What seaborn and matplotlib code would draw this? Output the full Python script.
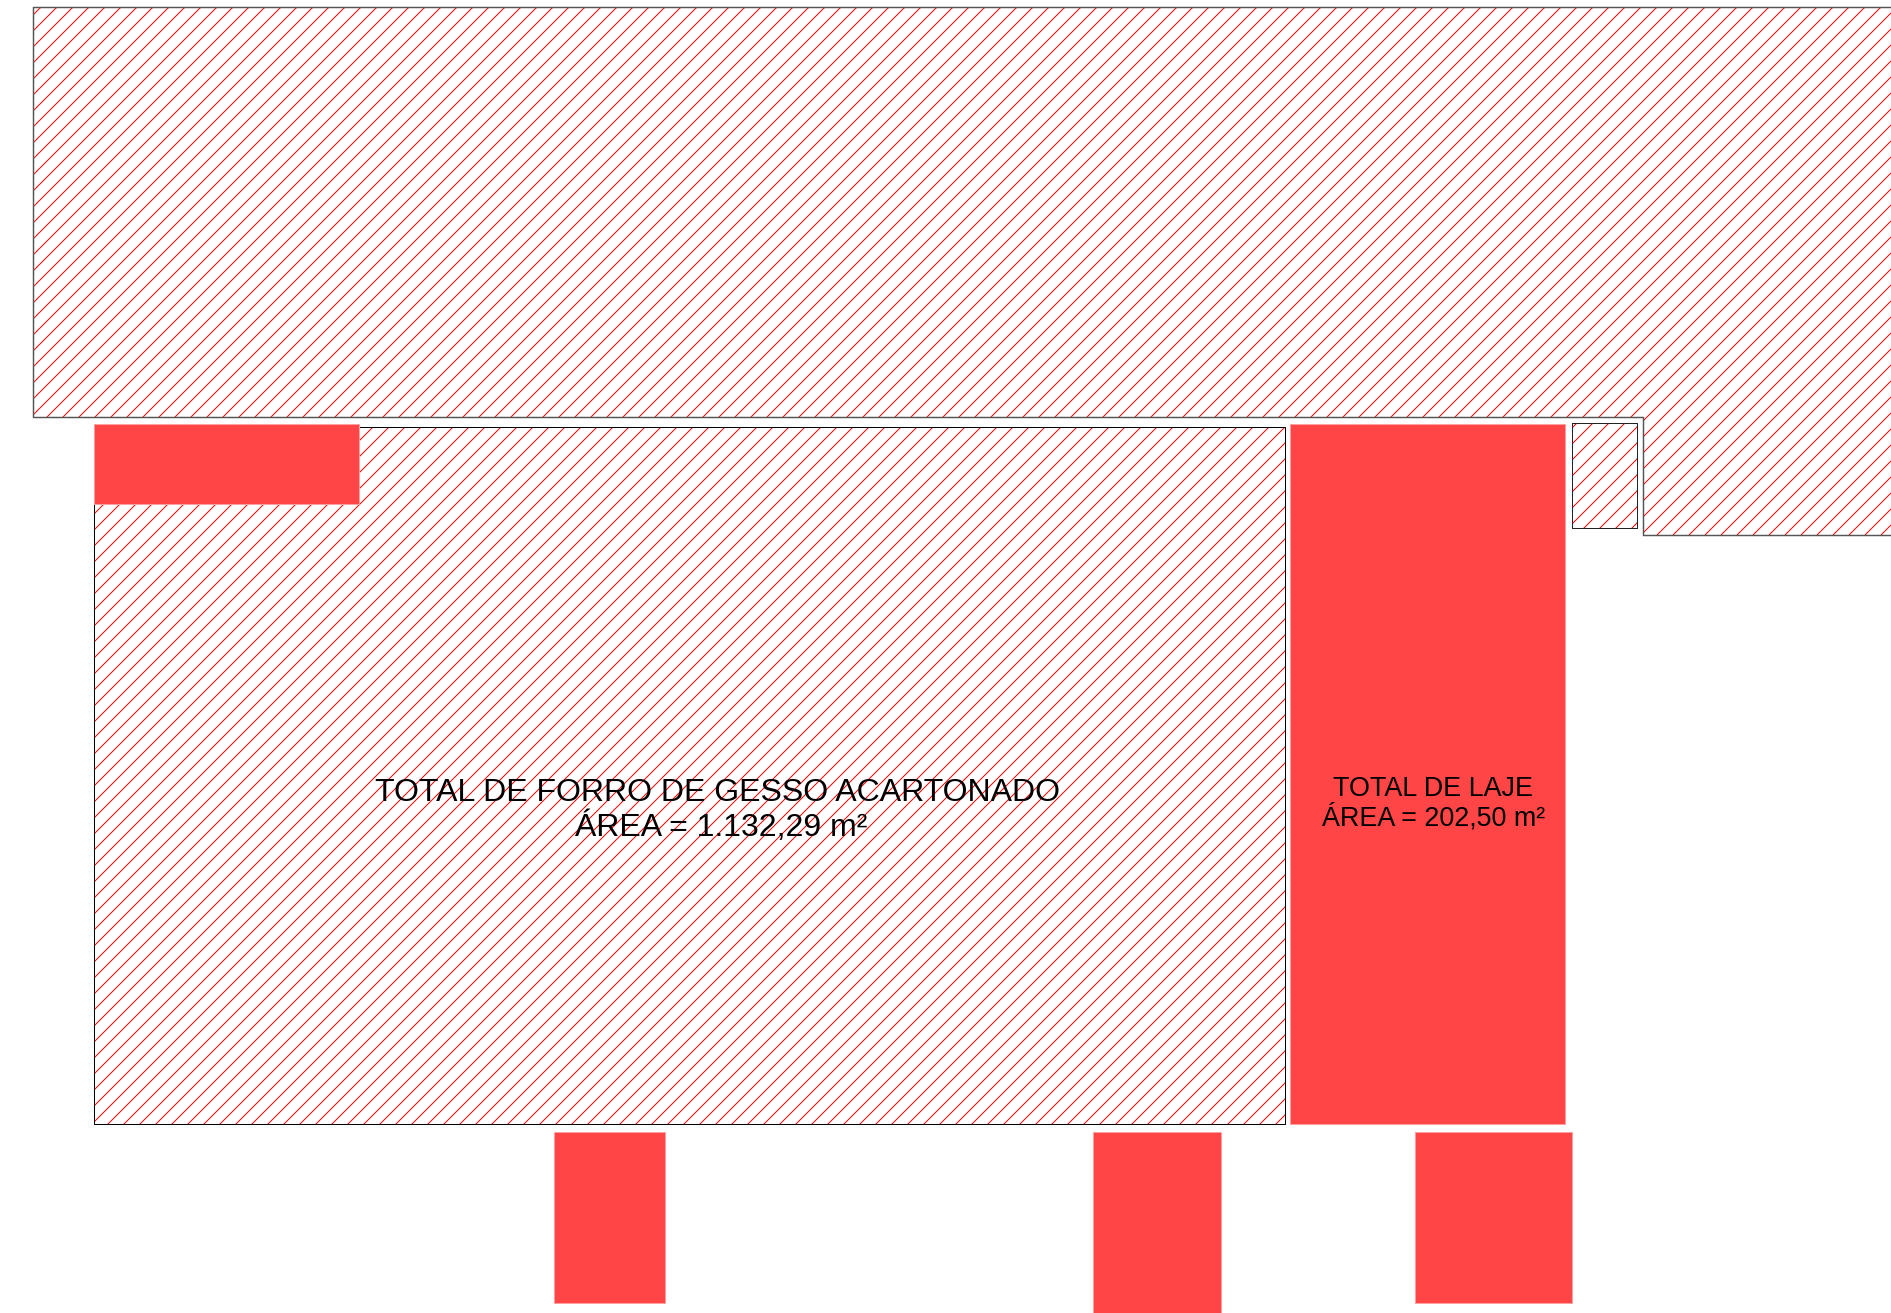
import matplotlib
matplotlib.use('Agg')
import matplotlib.pyplot as plt
import seaborn as sns

# Areas, in drawing units (image pixels)
hatched_names = ['bloco_superior', 'bloco_direita', 'forro', 'shaft']
hatched_left = [33, 1643, 94, 1572]
hatched_right = [1891, 1891, 1285, 1637]
hatched_top = [7.5, 417, 427, 423]
hatched_bottom = [417, 535, 1124, 528]

solid_names = ['laje_esquerda', 'laje', 'pilar_1', 'pilar_2', 'pilar_3']
solid_left = [94, 1290, 553.5, 1092.5, 1415]
solid_right = [359, 1565, 665, 1221, 1572]
solid_top = [424.5, 424, 1132, 1132, 1132]
solid_bottom = [504.5, 1124, 1303, 1313, 1303]

# Outlines
outline_upper_x = [1891, 33, 33, 1643, 1643, 1891]
outline_upper_y = [7.5, 7.5, 417, 417, 535, 535]
outline_forro_x = [359, 1285, 1285, 94, 94]
outline_forro_y = [427, 427, 1124, 1124, 504.5]
outline_shaft_x = [1572, 1637, 1637, 1572, 1572]
outline_shaft_y = [423, 423, 528, 528, 423]

label_forro = 'TOTAL DE FORRO DE GESSO ACARTONADO'
label_forro_area = 'ÁREA = 1.132,29 m²'
label_laje = 'TOTAL DE LAJE'
label_laje_area = 'ÁREA = 202,50 m²'

sns.set_theme(style='white')
plt.rcParams['font.family'] = ['Liberation Sans', 'DejaVu Sans']
plt.rcParams['hatch.linewidth'] = 0.75
plt.rcParams['hatch.color'] = '#ff0000'

fig = plt.figure(figsize=(1891.01 / 96, 1313.01 / 96), dpi=96)
ax = fig.add_axes([0, 0, 1, 1])


def draw_area(left, right, top, bottom, **kws):
    sns.barplot(x=[(left + right) / 2], y=[bottom - top], bottom=top, width=right - left,
                native_scale=True, saturation=1, ax=ax, **kws)


for l, r, t, b in zip(hatched_left, hatched_right, hatched_top, hatched_bottom):
    draw_area(l, r, t, b, color='white', edgecolor='#ff0000', linewidth=0, hatch='//', zorder=1)

for l, r, t, b in zip(solid_left, solid_right, solid_top, solid_bottom):
    draw_area(l, r, t, b, color='#ff4545', edgecolor='#ffa0a0', linewidth=0.75, zorder=3)

# upper block edge is softer than the two others
sns.lineplot(x=outline_upper_x, y=outline_upper_y, sort=False, estimator=None, color='#555555',
             linewidth=1.1, ax=ax, zorder=2)
sns.lineplot(x=outline_forro_x, y=outline_forro_y, sort=False, estimator=None, color='black',
             linewidth=0.75, ax=ax, zorder=2)
sns.lineplot(x=outline_shaft_x, y=outline_shaft_y, sort=False, estimator=None, color='#222222',
             linewidth=0.75, ax=ax, zorder=2)

ax.text(717, 793, label_forro, ha='center', va='center', fontsize=24, color='black', zorder=4)
ax.text(721, 827, label_forro_area, ha='center', va='center', fontsize=24, color='black', zorder=4)
ax.text(1433, 789, label_laje, ha='center', va='center', fontsize=20.15, color='black', zorder=4)
ax.text(1434, 818, label_laje_area, ha='center', va='center', fontsize=20.15, color='black', zorder=4)

ax.set_xlim(0, 1891)
ax.set_ylim(1313, 0)
ax.axis('off')

fig.savefig('out.png', dpi=96, facecolor='white')
